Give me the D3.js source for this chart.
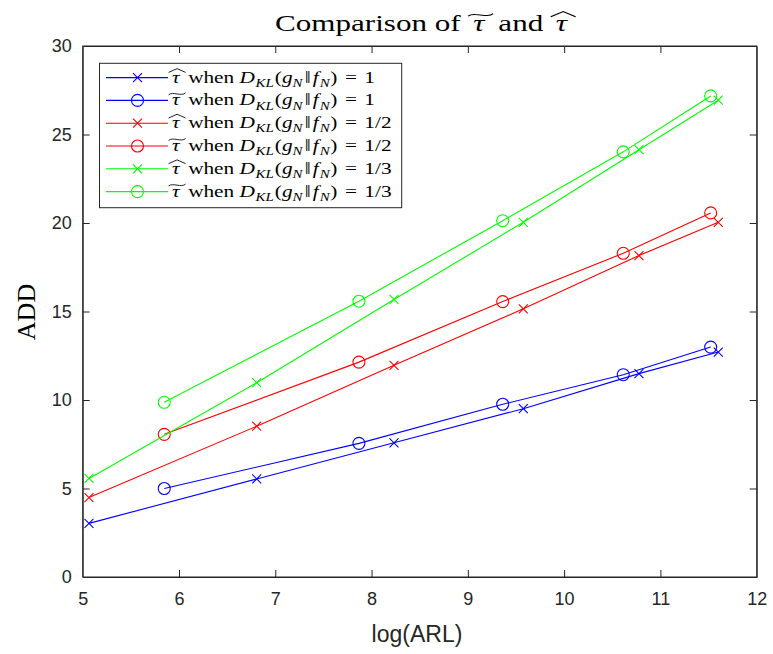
<!DOCTYPE html>
<html><head><meta charset="utf-8">
<script src="https://cdn.jsdelivr.net/npm/d3@7"></script>
<style>body{margin:0;background:#fff}svg{display:block}</style>
</head><body>
<script>
const hatX = [5.065, 6.807, 8.233, 9.576, 10.777, 11.601];
const tildeX = [5.847, 7.869, 9.362, 10.614, 11.522];
const blueHat = [3.03, 5.54, 7.58, 9.51, 11.49, 12.71];
const blueTilde = [5.00, 7.55, 9.76, 11.43, 12.99];
const redHat = [4.49, 8.52, 11.96, 15.15, 18.16, 20.04];
const redTilde = [8.06, 12.14, 15.56, 18.29, 20.57];
const greenHat = [5.57, 10.98, 15.68, 20.04, 24.14, 26.94];
const greenTilde = [9.87, 15.58, 20.13, 24.02, 27.18];
const xTicks = [5, 6, 7, 8, 9, 10, 11, 12];
const yTicks = [0, 5, 10, 15, 20, 25, 30];
const kls = ["1", "1", "1/2", "1/2", "1/3", "1/3"];

const series = [
  {xs: hatX, ys: blueHat, color: "#0000ff", marker: "x", acc: "hat", kl: kls[0]},
  {xs: tildeX, ys: blueTilde, color: "#0000ff", marker: "o", acc: "tilde", kl: kls[1]},
  {xs: hatX, ys: redHat, color: "#ff0000", marker: "x", acc: "hat", kl: kls[2]},
  {xs: tildeX, ys: redTilde, color: "#ff0000", marker: "o", acc: "tilde", kl: kls[3]},
  {xs: hatX, ys: greenHat, color: "#00ff00", marker: "x", acc: "hat", kl: kls[4]},
  {xs: tildeX, ys: greenTilde, color: "#00ff00", marker: "o", acc: "tilde", kl: kls[5]}
];

const W = 773, H = 654;
const L = 82.7, R = 756.7, T = 46, B = 577;
const axCol = "#262626";
const serif = "'Liberation Serif', 'DejaVu Serif', serif";
const sans = "'Liberation Sans', Arial, sans-serif";

const svg = d3.select("body").append("svg").attr("width", W).attr("height", H);
const x = d3.scaleLinear().domain([5, 12]).range([L, R]);
const y = d3.scaleLinear().domain([0, 30]).range([B, T]);

// axes
const tk = 7;
const fmt = d3.format("d");
const gx = svg.append("g").attr("transform", `translate(0,${B})`)
  .call(d3.axisBottom(x).tickValues(xTicks).tickFormat(fmt).tickSizeInner(-tk).tickSizeOuter(0).tickPadding(15));
const gy = svg.append("g").attr("transform", `translate(${L},0)`)
  .call(d3.axisLeft(y).tickValues(yTicks).tickFormat(fmt).tickSizeInner(-tk).tickSizeOuter(0).tickPadding(11));
const gxt = svg.append("g").attr("transform", `translate(0,${T})`)
  .call(d3.axisTop(x).tickValues(xTicks).tickSizeInner(-tk).tickSizeOuter(0).tickFormat(""));
const gyr = svg.append("g").attr("transform", `translate(${R},0)`)
  .call(d3.axisRight(y).tickValues(yTicks).tickSizeInner(-tk).tickSizeOuter(0).tickFormat(""));
[gx, gy, gxt, gyr].forEach(g => {
  g.select(".domain").attr("stroke", axCol).attr("stroke-width", 1);
  g.selectAll(".tick line").attr("stroke", axCol).attr("stroke-width", 1);
  g.selectAll(".tick text").attr("fill", axCol).attr("font-family", sans).attr("font-size", 18);
});
gx.selectAll(".tick line").filter(d => d === 5 || d === 12).remove();
gxt.selectAll(".tick line").filter(d => d === 5 || d === 12).remove();
gy.selectAll(".tick line").filter(d => d === 0 || d === 30).remove();
gyr.selectAll(".tick line").filter(d => d === 0 || d === 30).remove();
svg.append("rect").attr("x", L).attr("y", T).attr("width", R - L).attr("height", B - T)
  .attr("fill", "none").attr("stroke", axCol).attr("stroke-width", 1);

// lines and markers
const line = d3.line().x(d => x(d[0])).y(d => y(d[1]));
function drawMarker(g, type, cx, cy, color) {
  if (type === "o") {
    g.append("circle").attr("cx", cx).attr("cy", cy).attr("r", 6)
      .attr("fill", "none").attr("stroke", color).attr("stroke-width", 1.1);
  } else {
    const s = 4.5;
    g.append("path").attr("d", `M${cx - s},${cy - s}L${cx + s},${cy + s}M${cx - s},${cy + s}L${cx + s},${cy - s}`)
      .attr("stroke", color).attr("stroke-width", 1.1).attr("fill", "none");
  }
}
series.forEach(s => {
  const pts = s.xs.map((v, i) => [v, s.ys[i]]);
  const g = svg.append("g");
  g.append("path").attr("d", line(pts)).attr("fill", "none").attr("stroke", s.color).attr("stroke-width", 1.1);
  pts.forEach(p => drawMarker(g, s.marker, x(p[0]), y(p[1]), s.color));
});

// rich text helper (draws at origin; returns width)
function rich(g, segs, size) {
  let cx = 0;
  segs.forEach(sg => {
    cx += (sg.pre || 0) * size;
    const fs = sg.sub ? size * 0.7 : size;
    const t = g.append("text").attr("x", cx).attr("y", sg.sub ? size * 0.25 : 0)
      .attr("font-family", serif).attr("font-size", fs)
      .attr("font-style", sg.it ? "italic" : "normal").attr("fill", "#000")
      .style("white-space", "pre").text(sg.t);
    const w = t.node().getComputedTextLength();
    if (sg.acc) {
      const top = -size * 0.6, aw = size * 0.8, mx = cx + w / 2 + size * 0.06;
      const sw = size * 0.045;
      if (sg.acc === "hat") {
        g.append("path").attr("d", `M${mx - aw / 2},${top}L${mx},${top - size * 0.22}L${mx + aw / 2},${top}`)
          .attr("fill", "none").attr("stroke", "#000").attr("stroke-width", sw);
      } else {
        const a = size * 0.08;
        g.append("path").attr("d", `M${mx - aw / 2},${top - a * 0.3}C${mx - aw / 4},${top - a * 3.0} ${mx + aw / 4},${top + a * 1.2} ${mx + aw / 2},${top - a * 1.7}`)
          .attr("fill", "none").attr("stroke", "#000").attr("stroke-width", sw);
      }
    }
    cx += w + (sg.post || 0) * size;
  });
  return cx;
}

// title
const tsize = 23;
const tsegs = [{t: "Comparison of "}, {t: "τ", it: true, acc: "tilde", pre: 0.15, post: 0.2}, {t: " and "}, {t: "τ", it: true, acc: "hat", pre: 0.15, post: 0.1}];
const tg = svg.append("g");
const tw = rich(tg, tsegs, tsize);
const tTarget = 295, tsx = tTarget / tw;
tg.attr("transform", `translate(${275},${30.5}) scale(${tsx},1)`);

// axis labels
svg.append("text").attr("x", 417).attr("y", 642).attr("text-anchor", "middle")
  .attr("font-family", sans).attr("font-size", 23).attr("fill", axCol).text("log(ARL)");
svg.append("text").attr("transform", `translate(35,${312}) rotate(-90)`).attr("text-anchor", "middle")
  .attr("font-family", serif).attr("font-size", 26).attr("fill", "#000").text("ADD");

// legend
const lg = svg.append("g");
const lx = 99.5, ly = 63.3, lw = 302.2, lh = 144.4;
lg.append("rect").attr("x", lx).attr("y", ly).attr("width", lw).attr("height", lh)
  .attr("fill", "#fff").attr("stroke", axCol).attr("stroke-width", 1);
const lsize = 17;
let lsx = null;
series.forEach((s, i) => {
  const yy = 77.6 + i * 22.8;
  lg.append("line").attr("x1", 106).attr("x2", 168).attr("y1", yy).attr("y2", yy)
    .attr("stroke", s.color).attr("stroke-width", 1.1);
  drawMarker(lg, s.marker, 137.5, yy, s.color);
  const segs = [
    {t: "τ", it: true, acc: s.acc, post: 0.15}, {t: " when "}, {t: "D", it: true, post: 0.03}, {t: "KL", it: true, sub: true},
    {t: "(", pre: 0.05}, {t: "g", it: true}, {t: "N", it: true, sub: true}, {t: "‖", pre: 0.1, post: 0.1}, {t: "f", it: true, post: 0.05},
    {t: "N", it: true, sub: true}, {t: ")", pre: 0.03}, {t: " = ", pre: 0.1, post: 0.1}, {t: s.kl}
  ];
  const rg = lg.append("g");
  const w = rich(rg, segs, lsize);
  if (lsx === null) lsx = 203 / w;
  rg.attr("transform", `translate(172,${yy + 5}) scale(${lsx},1)`);
});
</script>
</body></html>
